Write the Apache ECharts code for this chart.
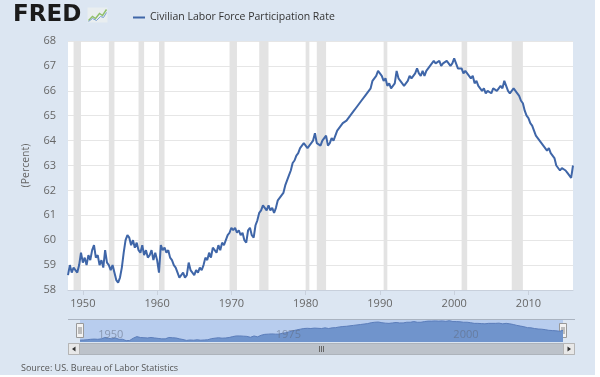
<!DOCTYPE html>
<html>
<head>
<meta charset="utf-8">
<title>Civilian Labor Force Participation Rate</title>
<script src="https://cdn.jsdelivr.net/npm/echarts@6/dist/echarts.min.js"></script>
<style>
  html, body { margin: 0; padding: 0; background: #fff; }
  #chart { width: 595px; height: 375px; }
</style>
</head>
<body>
<div id="chart"></div>
<script>
// quarterly values (percent), first point is 1948 Q1
const startYear = 1948
const rate1940s = [58.6, 59.0, 58.7, 58.9, 58.8, 58.7, 59.0, 59.5]
const rate1950s = [
  59.1, 59.3, 59.0, 59.4,
  59.2, 59.6, 59.8, 59.3,
  59.4, 59.0, 59.2, 58.9,
  59.6, 59.1, 59.0, 58.8,
  59.0, 58.7, 58.4, 58.3,
  58.5, 58.9, 59.5, 60.0,
  60.2, 60.1, 59.8, 60.0,
  59.7, 59.9, 59.6, 59.5,
  59.8, 59.4, 59.6, 59.3,
  59.4, 59.6, 59.2, 59.5,
]
const rate1960s = [
  59.2, 58.7, 59.8, 59.6,
  59.7, 59.5, 59.6, 59.3,
  59.2, 59.0, 58.9, 58.7,
  58.5, 58.6, 58.7, 58.5,
  58.6, 59.1, 58.8, 58.7,
  58.6, 58.8, 58.7, 58.9,
  58.8, 59.0, 59.3, 59.2,
  59.5, 59.3, 59.7, 59.6,
  59.5, 59.8, 59.6, 59.9,
  59.8, 60.0, 60.2, 60.3,
]
const rate1970s = [
  60.5, 60.4, 60.5, 60.3,
  60.4, 60.2, 60.3, 60.0,
  59.9, 60.4, 60.5, 60.2,
  60.1, 60.6, 60.8, 61.1,
  61.2, 61.4, 61.3, 61.2,
  61.4, 61.2, 61.3, 61.1,
  61.3, 61.6, 61.7, 61.8,
  61.9, 62.2, 62.4, 62.6,
  62.8, 63.1, 63.2, 63.4,
  63.5, 63.7, 63.8, 63.9,
]
const rate1980s = [
  63.9, 63.7, 63.8, 63.9,
  64.0, 64.3, 63.9, 63.9,
  63.8, 64.0, 64.1, 64.2,
  63.8, 63.9, 64.1, 64.0,
  64.2, 64.4, 64.5, 64.5,
  64.7, 64.7, 64.8, 64.9,
  65.0, 65.1, 65.2, 65.3,
  65.4, 65.5, 65.6, 65.6,
  65.8, 65.8, 66.0, 66.1,
  66.4, 66.5, 66.6, 66.8,
]
const rate1990s = [
  66.7, 66.6, 66.4, 66.5,
  66.2, 66.3, 66.1, 66.2,
  66.3, 66.8, 66.5, 66.4,
  66.3, 66.2, 66.3, 66.4,
  66.6, 66.5, 66.6, 66.7,
  66.9, 66.7, 66.6, 66.8,
  66.6, 66.8, 66.9, 67.0,
  67.1, 67.2, 67.1, 67.1,
  67.2, 67.0, 67.1, 67.1,
  67.2, 67.1, 67.0, 67.1,
]
const rate2000s = [
  67.3, 67.1, 66.9, 66.9,
  66.9, 66.7, 66.8, 66.7,
  66.6, 66.5, 66.6, 66.3,
  66.4, 66.2, 66.1, 66.0,
  66.1, 65.9, 66.0, 66.0,
  65.9, 66.1, 66.1, 66.0,
  66.1, 66.2, 66.1, 66.4,
  66.2, 66.0, 65.9, 65.9,
  66.1, 66.0, 65.9, 65.8,
  65.6, 65.5, 65.2, 65.0,
]
const rate2010s = [
  64.9, 64.7, 64.6, 64.4,
  64.2, 64.1, 64.1, 63.9,
  63.8, 63.8, 63.6, 63.7,
  63.5, 63.4, 63.3, 63.0,
  63.0, 62.8, 62.9, 62.9,
  62.8, 62.7, 62.6, 62.5,
  63.0,
]

// shaded recessions, start and end quarter
const recessions = [
  ['1948-10', '1949-10'],
  ['1953-07', '1954-04'],
  ['1957-07', '1958-04'],
  ['1960-04', '1961-01'],
  ['1969-10', '1970-10'],
  ['1973-10', '1975-01'],
  ['1980-01', '1980-07'],
  ['1981-07', '1982-10'],
  ['1990-07', '1991-01'],
  ['2001-01', '2001-10'],
  ['2007-10', '2009-04'],
]

const xTickYears = ['1950', '1960', '1970', '1980', '1990', '2000', '2010']
const navTickYears = ['1950', '1975', '2000']
const seriesName = 'Civilian Labor Force Participation Rate'

const rates = [].concat(rate1940s, rate1950s, rate1960s, rate1970s, rate1980s, rate1990s, rate2000s, rate2010s)
const quarters = rates.map((v, i) => startYear + Math.floor(i / 4) + '-' + ['01', '04', '07', '10'][i % 4])

const isTick = (years) => (i, value) => value.endsWith('-01') && years.includes(value.slice(0, 4))

const font = 'Open Sans'

const chart = echarts.init(document.getElementById('chart'))

chart.setOption({
  animation: false,
  backgroundColor: '#dce6f2',
  textStyle: { fontFamily: font },
  legend: {
    data: [seriesName],
    left: 128,
    top: 7,
    icon: 'rect',
    itemWidth: 12,
    itemHeight: 2,
    textStyle: { fontSize: 10.5, color: '#333', fontFamily: font },
  },
  grid: [
    {
      left: 68,
      right: 22,
      top: 41,
      bottom: 85,
      show: true,
      backgroundColor: '#fff',
      borderWidth: 0,
    },
    {
      left: 80,
      right: 32,
      top: 320,
      height: 22,
      show: true,
      backgroundColor: '#b8cdee',
      borderWidth: 0,
    },
  ],
  xAxis: [
    {
      type: 'category',
      data: quarters,
      boundaryGap: false,
      axisLine: { lineStyle: { color: '#c8d0dc' } },
      axisTick: {
        interval: isTick(xTickYears),
        length: 5,
        lineStyle: { color: '#c8d0dc' },
      },
      axisLabel: {
        interval: isTick(xTickYears),
        formatter: (v) => v.slice(0, 4),
        color: '#666',
        fontSize: 11,
        margin: 8,
      },
      splitLine: { show: false },
    },
    {
      type: 'category',
      gridIndex: 1,
      data: quarters,
      boundaryGap: false,
      axisLine: { show: false },
      axisTick: { show: false },
      axisLabel: {
        inside: true,
        interval: isTick(navTickYears),
        formatter: (v) => v.slice(0, 4),
        align: 'left',
        padding: [0, 0, 0, 4],
        margin: 2,
        color: 'rgba(95,105,125,0.55)',
        fontSize: 11,
      },
      z: 10,
    },
  ],
  yAxis: [
    {
      type: 'value',
      min: 58,
      max: 68,
      interval: 1,
      name: '(Percent)',
      nameLocation: 'middle',
      nameRotate: 90,
      nameGap: 36,
      nameTextStyle: { color: '#666', fontSize: 10.5 },
      axisLine: { show: false },
      axisTick: { show: false },
      axisLabel: { color: '#666', fontSize: 11, margin: 12 },
      splitLine: { lineStyle: { color: '#e6e6e6' } },
    },
    {
      type: 'value',
      gridIndex: 1,
      min: 57.8,
      max: 67.6,
      show: false,
    },
  ],
  series: [
    {
      name: seriesName,
      type: 'line',
      data: rates,
      showSymbol: false,
      symbol: 'none',
      lineStyle: { width: 2, color: '#3f66a8' },
      itemStyle: { color: '#3f66a8' },
      markArea: {
        silent: true,
        itemStyle: { color: '#e3e3e3' },
        data: recessions.map(([a, b]) => [{ xAxis: a }, { xAxis: b }]),
      },
      z: 3,
    },
    {
      name: 'navigator',
      type: 'line',
      xAxisIndex: 1,
      yAxisIndex: 1,
      data: rates,
      symbol: 'none',
      lineStyle: { width: 1, color: '#5b7dba' },
      areaStyle: { color: '#7094cc', opacity: 1 },
      silent: true,
    },
  ],
  graphic: [
    {
      type: 'text',
      left: 13,
      top: 4,
      style: { text: 'FRED', font: 'bold 23px "DejaVu Sans"', fill: '#1b1b1b' },
    },
    {
      type: 'group',
      left: 86,
      top: 7,
      children: [
        { type: 'rect', shape: { x: 0, y: 0, width: 20, height: 15 }, style: { fill: '#e9eef0' } },
        {
          type: 'polyline',
          shape: { points: [[1, 13], [5, 9], [8, 11], [12, 6], [15, 8], [19, 2]] },
          style: { stroke: '#8fbf6a', lineWidth: 1.4, fill: null },
        },
        {
          type: 'polyline',
          shape: { points: [[1, 14], [5, 11], [9, 13], [13, 9], [16, 10], [19, 5]] },
          style: { stroke: '#7b9fd0', lineWidth: 1, fill: null },
        },
      ],
    },
    // navigator outline
    {
      type: 'line',
      shape: { x1: 68, y1: 319.5, x2: 575, y2: 319.5 },
      style: { stroke: '#aab3c0', lineWidth: 1 },
    },
    // navigator handles
    {
      type: 'group',
      children: [
        { type: 'rect', shape: { x: 76.5, y: 323.5, width: 7, height: 14 }, style: { fill: '#f2f2f2', stroke: '#999' } },
        { type: 'line', shape: { x1: 79, y1: 327, x2: 79, y2: 334 }, style: { stroke: '#888' } },
        { type: 'line', shape: { x1: 81, y1: 327, x2: 81, y2: 334 }, style: { stroke: '#888' } },
        { type: 'rect', shape: { x: 559.5, y: 323.5, width: 7, height: 14 }, style: { fill: '#f2f2f2', stroke: '#999' } },
        { type: 'line', shape: { x1: 562, y1: 327, x2: 562, y2: 334 }, style: { stroke: '#888' } },
        { type: 'line', shape: { x1: 564, y1: 327, x2: 564, y2: 334 }, style: { stroke: '#888' } },
      ],
    },
    // scrollbar
    {
      type: 'group',
      children: [
        { type: 'rect', shape: { x: 68.5, y: 343.5, width: 506, height: 11 }, style: { fill: '#bcc2ca', stroke: '#adb3bb' } },
        { type: 'rect', shape: { x: 68.5, y: 343.5, width: 11, height: 11 }, style: { fill: '#e8e8e8', stroke: '#b5b5b5' } },
        { type: 'polygon', shape: { points: [[75.5, 346.5], [72, 349], [75.5, 351.5]] }, style: { fill: '#333' } },
        { type: 'rect', shape: { x: 563.5, y: 343.5, width: 11, height: 11 }, style: { fill: '#e8e8e8', stroke: '#b5b5b5' } },
        { type: 'polygon', shape: { points: [[567.5, 346.5], [571, 349], [567.5, 351.5]] }, style: { fill: '#333' } },
        { type: 'line', shape: { x1: 319.5, y1: 346, x2: 319.5, y2: 352 }, style: { stroke: '#666' } },
        { type: 'line', shape: { x1: 321.5, y1: 346, x2: 321.5, y2: 352 }, style: { stroke: '#666' } },
        { type: 'line', shape: { x1: 323.5, y1: 346, x2: 323.5, y2: 352 }, style: { stroke: '#666' } },
      ],
    },
    {
      type: 'text',
      left: 21,
      top: 364,
      style: { text: 'Source: US. Bureau of Labor Statistics', font: '9px "Open Sans"', fill: '#555' },
    },
  ],
})
</script>
</body>
</html>
